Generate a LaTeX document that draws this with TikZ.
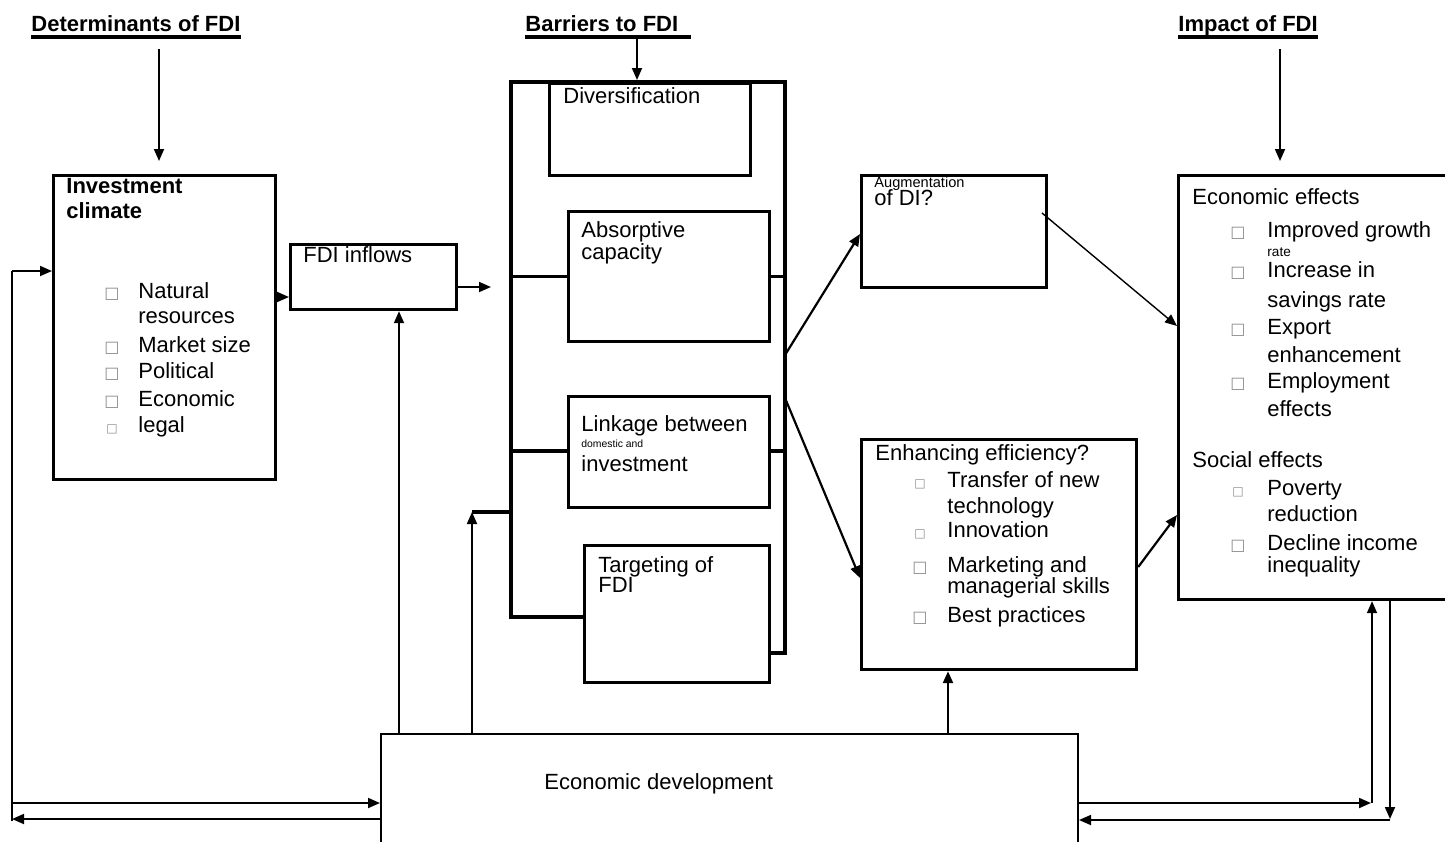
\documentclass[tikz,border=0pt]{standalone}
\usepackage{fontspec}
\setmainfont{Liberation Sans}
\newfontfamily\symfont{DejaVu Sans}
\usetikzlibrary{arrows.meta}

% petites cases grises devant les items
\newcommand{\sq}{{\fontsize{8}{8}\selectfont\symfont\color{black!45}□}}
\newcommand{\ssq}{{\fontsize{6}{6}\selectfont\symfont\color{black!45}□}}

\begin{document}
\begin{tikzpicture}[x=0.5pt,y=-0.5pt,>={Triangle[length=6pt,width=5pt]},
    font=\fontsize{11}{13}\selectfont,
    box/.style={draw,line width=1.6pt,anchor=north west,inner sep=0pt},
    txt/.style={anchor=base west,inner sep=0pt},
    head/.style={txt,font=\fontsize{11}{13}\selectfont\bfseries},
    bul/.style={anchor=base west,inner sep=0pt},
    arr/.style={->,line width=0.9pt},
    wall/.style={line width=1.6pt}]

    \useasboundingbox (0,0) rectangle (1445,841);
    \clip (0,0) rectangle (1445,841);

    % Titres
    \node[head] (det) at (31,31) {Determinants of FDI};
    \node[head] (bar) at (525,31) {Barriers to FDI};
    \node[head] (imp) at (1178,31) {Impact of FDI};
    \draw[wall] ([yshift=-3pt]det.base west) -- ([yshift=-3pt]det.base east);
    \draw[wall] ([yshift=-3pt]bar.base west) -- ([yshift=-3pt,xshift=6pt]bar.base east);
    \draw[wall] ([yshift=-3pt]imp.base west) -- ([yshift=-3pt]imp.base east);

    % Les cadres
    \node[box,minimum width=111pt,minimum height=152pt] (ic) at (52,174) {};
    \node[box,minimum width=83pt,minimum height=32.5pt] (fin) at (289,243) {};
    \node[box,minimum width=100.5pt,minimum height=46pt] (div) at (548,82) {};
    \node[box,minimum width=100.5pt,minimum height=65pt] (abs) at (567,210) {};
    \node[box,minimum width=100.5pt,minimum height=55.5pt] (lnk) at (567,395) {};
    \node[box,minimum width=92.5pt,minimum height=68.5pt] (tgt) at (583,544) {};
    \node[box,minimum width=92.5pt,minimum height=56pt] (aug) at (860,174) {};
    \node[box,minimum width=137.5pt,minimum height=115pt] (enh) at (860,438) {};
    \node[box,minimum width=140pt,minimum height=212pt] (eff) at (1177,174) {};
    \node[box,line width=1pt,minimum width=348.5pt,minimum height=65pt] (ed) at (380,733) {};

    % Cadre des barrieres
    \coordinate (ctl) at (511,82);
    \coordinate (ctr) at (785,82);
    \draw[wall] (tgt.west |- 0,617) -- (ctl |- 0,617) -- (ctl) -- (ctr) -- (ctr |- 0,653) -- (tgt.east |- 0,653);
    \draw[wall] (ctl |- abs.west) -- (abs.west);
    \draw[wall] (abs.east) -- (ctr |- abs.east);
    \draw[wall] (ctl |- 0,451) -- (lnk.west |- 0,451);
    \draw[wall] (lnk.east |- 0,451) -- (ctr |- 0,451);
    \draw[wall] (472,512) -- (ctl |- 0,512);

    % Textes
    \node[head] (ic1) at (66,193) {Investment};
    \node[head] (ic2) at (66,218) {climate};
    \foreach \y/\t [count=\i] in {298/Natural,323/resources,352/Market size,378/Political,406/Economic,432/legal}
        \node[txt] (ict\i) at (138,\y) {\t};
    \foreach \y [count=\i] in {298,352,378,406}
        \node[bul] (icb\i) at (104,\y) {\sq};
    \node[bul] (icb5) at (106,432) {\ssq};

    \node[txt] (fint) at (303,262) {FDI inflows};
    \node[txt] (divt) at (563,103) {Diversification};
    \node[txt] (abs1) at (581,237) {Absorptive};
    \node[txt] (abs2) at (581,259) {capacity};
    \node[txt] (lnk1) at (581,431) {Linkage between};
    \node[txt,font=\fontsize{5.2}{6}\selectfont] (lnk2) at (581,447) {domestic and};
    \node[txt] (lnk3) at (581,471) {investment};
    \node[txt] (tgt1) at (598,572) {Targeting of};
    \node[txt] (tgt2) at (598,592) {FDI};

    \node[txt,font=\fontsize{7.3}{8}\selectfont] (aug1) at (874,187) {Augmentation};
    \node[txt] (aug2) at (874,205) {of DI?};

    \node[txt] (enht) at (875,460) {Enhancing efficiency?};
    \foreach \y/\t [count=\i] in {487/Transfer of new,513/technology,537/Innovation,572/Marketing and,593/managerial skills,622/Best practices}
        \node[txt] (enh\i) at (947,\y) {\t};
    \node[bul] (enb1) at (914,487) {\ssq};
    \node[bul] (enb2) at (914,537) {\ssq};
    \node[bul] (enb3) at (912,572) {\sq};
    \node[bul] (enb4) at (912,622) {\sq};

    \node[txt] (efft) at (1192,204) {Economic effects};
    \foreach \y/\t [count=\i] in {237/Improved growth,277/Increase in,307/savings rate,334/Export,362/enhancement,388/Employment,416/effects,495/Poverty,521/reduction,550/Decline income,572/inequality}
        \node[txt] (eff\i) at (1267,\y) {\t};
    \node[txt,font=\fontsize{6.8}{8}\selectfont] (effr) at (1267,256) {rate};
    \node[txt] (soct) at (1192,467) {Social effects};
    \foreach \y [count=\i] in {237,277,334,388,550}
        \node[bul] (efb\i) at (1230,\y) {\sq};
    \node[bul] (efb6) at (1232,495) {\ssq};

    \node[txt] (edt) at (544,789) {Economic development};

    % Fleches
    \draw[arr] ([yshift=-9pt]det.base -| 159,0) -- (159,161);
    \draw[arr] ([yshift=-4pt]bar.base -| 637,0) -- (637 ,80);
    \draw[arr] ([yshift=-9pt]imp.base -| 1280,0) -- (1280,161);
    \draw[arr] (ic.east |- 0,297) -- (fin.west |- 0,297);
    \draw[arr] (fin.east |- 0,287) -- (491,287);

    \draw[line width=0.9pt] (12,821) -- (12,271);
    \draw[arr] (12,271) -- (ic.west |- 0,271);
    \draw[arr] (12,803) -- (ed.west |- 0,803);
    \draw[arr] (ed.west |- 0,819) -- (12,819);

    \draw[arr] (ed.north -| 399,0) -- (fin.south -| 399,0);
    \draw[arr] (ed.north -| 472,0) -- (472,512);
    \draw[arr,line width=1.2pt] (ed.north -| 948,0) -- (enh.south -| 948,0);

    \draw[arr] (ed.east |- 0,803) -- (1371,803);
    \draw[arr] (1372,803) -- (eff.south -| 1372,0);
    \draw[arr] (eff.south -| 1390,0) -- (1390,819);
    \draw[arr] (1390,820) -- (ed.east |- 0,820);

    \draw[arr,line width=1.1pt] (785,355) -- (aug.west |- 0,234);
    \draw[arr,line width=1.1pt] (785,398) -- (enh.west |- 0,578);
    \draw[arr,line width=0.7pt] (1042,213) -- (eff.west |- 0,326);
    \draw[arr,line width=1.1pt] (enh.east |- 0,567) -- (eff.west |- 0,515);

\end{tikzpicture}
\end{document}
